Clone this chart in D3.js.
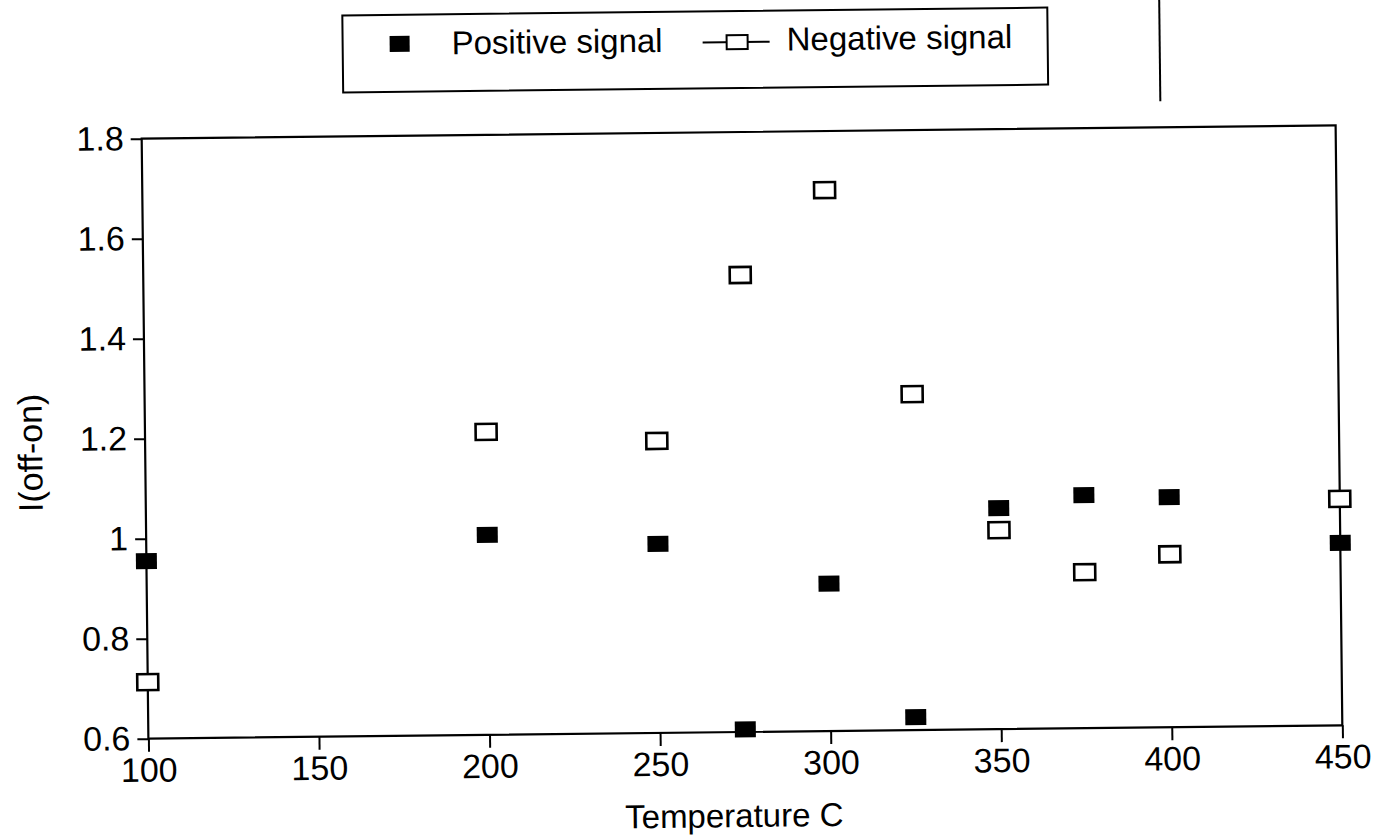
<!DOCTYPE html>
<html><head><meta charset="utf-8">
<script src="https://cdn.jsdelivr.net/npm/d3@7"></script>
<style>body{margin:0;background:#fff}svg{display:block}</style></head>
<body>
<svg id="c" width="1375" height="838"></svg>
<script>
const temps = [100, 200, 250, 275, 300, 325, 350, 375, 400, 450];
const positive = [0.955, 1.0, 0.978, 0.605, 0.895, 0.626, 1.042, 1.066, 1.06, 0.965];
const negative = [0.713, 1.206, 1.184, 1.514, 1.682, 1.272, 0.998, 0.912, 0.946, 1.053];
const xTicks = [100, 150, 200, 250, 300, 350, 400, 450];
const yTicks = [0.6, 0.8, 1.0, 1.2, 1.4, 1.6, 1.8];
const yTickLabels = ["0.6", "0.8", "1", "1.2", "1.4", "1.6", "1.8"];
const seriesNames = ["Positive signal", "Negative signal"];
const xTitle = "Temperature C";
const yTitle = "I(off-on)";

const FONT = "'Liberation Sans', Arial, sans-serif";
const L = 145, R = 1339, T = 132, B = 732;
const svg = d3.select("#c");
const g = svg.append("g").attr("transform", "rotate(-0.64, 742, 432)");

const x = d3.scaleLinear().domain([100, 450]).range([L, R]);
const y = d3.scaleLinear().domain([0.6, 1.8]).range([B, T]);

// frame
g.append("rect").attr("x", L).attr("y", T).attr("width", R - L).attr("height", B - T)
  .attr("fill", "none").attr("stroke", "#000").attr("stroke-width", 2.2);

// y axis
const yAxis = d3.axisLeft(y).tickValues(yTicks).tickSize(11).tickPadding(7)
  .tickFormat((d, i) => yTickLabels[i]);
const ya = g.append("g").attr("transform", `translate(${L},0)`).call(yAxis);
ya.select(".domain").remove();
ya.selectAll("line").attr("stroke", "#000").attr("stroke-width", 2);
ya.selectAll("text").attr("font-family", FONT).attr("font-size", 34).attr("fill", "#000");

// x axis
const xAxis = d3.axisBottom(x).tickValues(xTicks).tickSize(13).tickPadding(6);
const xa = g.append("g").attr("transform", `translate(0,${B})`).call(xAxis);
xa.select(".domain").remove();
xa.selectAll("line").attr("stroke", "#000").attr("stroke-width", 2);
xa.selectAll("text").attr("font-family", FONT).attr("font-size", 34).attr("fill", "#000");

// titles
g.append("text").attr("x", (L + R) / 2 - 12).attr("y", 827).attr("text-anchor", "middle")
  .attr("font-family", FONT).attr("font-size", 33).text(xTitle);
g.append("text").attr("transform", "translate(42,445) rotate(-90)").attr("text-anchor", "middle")
  .attr("font-family", FONT).attr("font-size", 34).text(yTitle);

const MW = 21, MH = 16;
g.selectAll(".neg").data(temps).enter().append("rect")
  .attr("x", (d) => x(d) - MW / 2).attr("y", (d, i) => y(negative[i]) - MH / 2)
  .attr("width", MW).attr("height", MH)
  .attr("fill", "#fff").attr("stroke", "#000").attr("stroke-width", 2.6);
g.selectAll(".pos").data(temps).enter().append("rect")
  .attr("x", (d) => x(d) - MW / 2).attr("y", (d, i) => y(positive[i]) - MH / 2)
  .attr("width", MW).attr("height", MH)
  .attr("fill", "#000");

// legend
const lg = g.append("g");
lg.append("rect").attr("x", 347).attr("y", 11).attr("width", 705).attr("height", 77)
  .attr("fill", "none").attr("stroke", "#000").attr("stroke-width", 2);
lg.append("rect").attr("x", 394).attr("y", 32).attr("width", 20).attr("height", 16).attr("fill", "#000");
lg.append("text").attr("x", 456).attr("y", 51).attr("font-family", FONT).attr("font-size", 33).text(seriesNames[0]);
lg.append("line").attr("x1", 707).attr("x2", 774).attr("y1", 42).attr("y2", 42).attr("stroke", "#000").attr("stroke-width", 2);
lg.append("rect").attr("x", 731).attr("y", 35).attr("width", 21).attr("height", 14)
  .attr("fill", "#fff").attr("stroke", "#000").attr("stroke-width", 2);
lg.append("text").attr("x", 791).attr("y", 51).attr("font-family", FONT).attr("font-size", 33).text(seriesNames[1]);
// scan artefact: vertical rule at top right
g.append("line").attr("x1", 1164).attr("x2", 1164).attr("y1", 0).attr("y2", 106)
  .attr("stroke", "#000").attr("stroke-width", 2);
</script>
</body></html>
